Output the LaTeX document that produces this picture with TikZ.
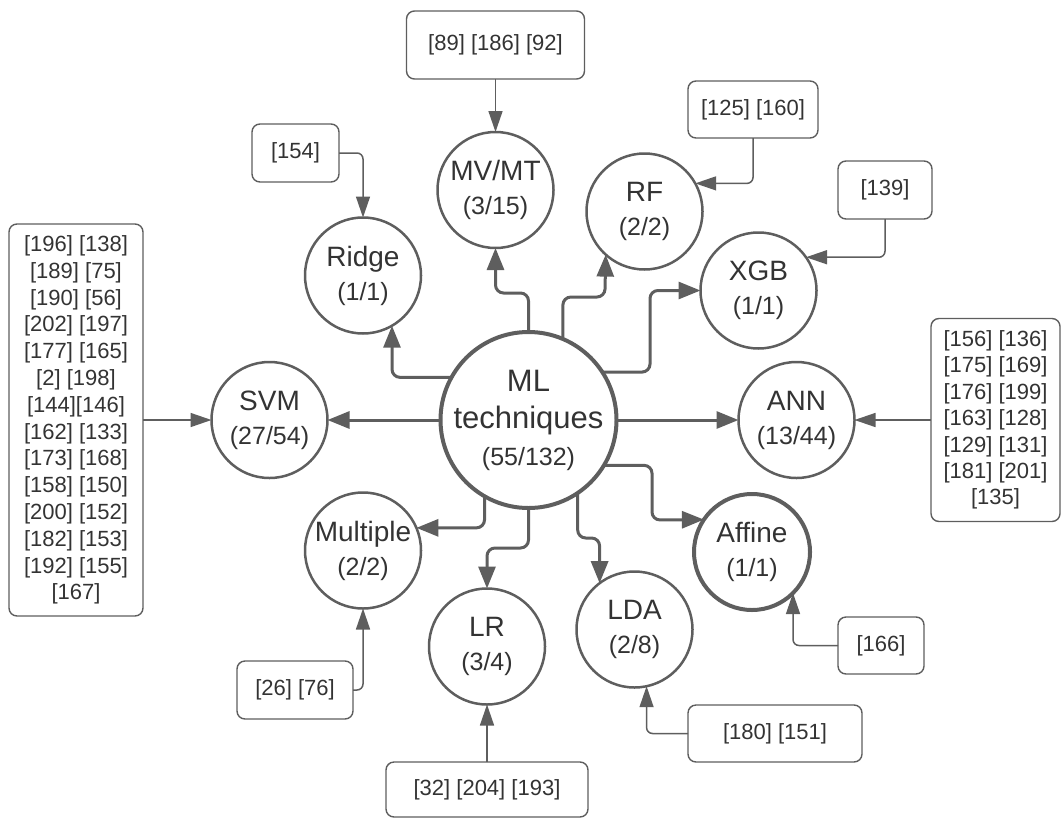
\documentclass[tikz,border=0pt]{standalone}
\usepackage{fontspec}
\setmainfont{Liberation Sans}
\usetikzlibrary{arrows.meta}
\definecolor{linecol}{RGB}{94,94,94}
\definecolor{txtcol}{RGB}{51,51,51}
\begin{document}
\begin{tikzpicture}[x=1pt,y=-1pt,
  circ/.style={circle,draw=linecol,line width=2.5pt,minimum size=116pt,inner sep=0pt,outer sep=0pt},
  bigcirc/.style={circ,line width=4pt},
  lbl/.style={text=txtcol,align=center,inner sep=0pt,font=\fontsize{28}{34}\selectfont},
  refbox/.style={draw=linecol,line width=1.4pt,rounded corners=8pt,text=txtcol,align=center,inner sep=0pt,outer sep=0pt,font=\fontsize{22}{25}\selectfont},
  conn/.style={draw=linecol,line width=3pt,rounded corners=8pt,-{Triangle[length=22pt,width=17pt]}},
  refconn/.style={draw=linecol,line width=1.5pt,rounded corners=6pt,-{Triangle[length=21pt,width=14pt]}},
]
\useasboundingbox (0,0) rectangle (1062,819);

% circles
\node[bigcirc,minimum size=176pt] (ml) at (528.5,420) {};
\node[lbl,font=\fontsize{31}{37}\selectfont] (mlt) at (ml) {ML\\techniques\\{\fontsize{25}{37}\selectfont (55/132)}};
\node[circ] (svm) at (269.5,420) {};
\node[lbl] (svmt) at (svm) {SVM\\{\fontsize{25}{34}\selectfont (27/54)}};
\node[circ] (ridge) at (363,275.5) {};
\node[lbl] (ridget) at (ridge) {Ridge\\{\fontsize{25}{34}\selectfont (1/1)}};
\node[circ] (mvmt) at (495.5,190) {};
\node[lbl] (mvmtt) at (mvmt) {MV/MT\\{\fontsize{25}{34}\selectfont (3/15)}};
\node[circ] (rf) at (644.5,211.5) {};
\node[lbl] (rft) at (rf) {RF\\{\fontsize{25}{34}\selectfont (2/2)}};
\node[circ] (xgb) at (758.5,290.5) {};
\node[lbl] (xgbt) at (xgb) {XGB\\{\fontsize{25}{34}\selectfont (1/1)}};
\node[circ] (ann) at (796.5,420) {};
\node[lbl] (annt) at (ann) {ANN\\{\fontsize{25}{34}\selectfont (13/44)}};
\node[bigcirc] (affine) at (752,552) {};
\node[lbl] (affinet) at (affine) {Affine\\{\fontsize{25}{34}\selectfont (1/1)}};
\node[circ] (lda) at (634.5,629.5) {};
\node[lbl] (ldat) at (lda) {LDA\\{\fontsize{25}{34}\selectfont (2/8)}};
\node[circ] (lr) at (487,646.5) {};
\node[lbl] (lrt) at (lr) {LR\\{\fontsize{25}{34}\selectfont (3/4)}};
\node[circ] (multiple) at (363,550.5) {};
\node[lbl] (multiplet) at (multiple) {Multiple\\{\fontsize{25}{34}\selectfont (2/2)}};

% reference boxes
\node[refbox,minimum width=134pt,minimum height=392pt,font=\fontsize{22}{26.8}\selectfont] (svmrefs) at (76,420) {[196] [138]\\\relax [189] [75]\\\relax [190] [56]\\\relax [202] [197]\\\relax [177] [165]\\\relax [2] [198]\\\relax [144][146]\\\relax [162] [133]\\\relax [173] [168]\\\relax [158] [150]\\\relax [200] [152]\\\relax [182] [153]\\\relax [192] [155]\\\relax [167]};
\node[refbox,minimum width=129pt,minimum height=203pt,font=\fontsize{22}{26.4}\selectfont] (annrefs) at (995.5,420) {[156] [136]\\\relax [175] [169]\\\relax [176] [199]\\\relax [163] [128]\\\relax [129] [131]\\\relax [181] [201]\\\relax [135]};
\node[refbox,minimum width=178pt,minimum height=68pt] (mvrefs) at (495.5,45) {[89] [186] [92]};
\node[refbox,minimum width=130pt,minimum height=57pt] (rfrefs) at (753,109.5) {[125] [160]};
\node[refbox,minimum width=94pt,minimum height=58pt] (xgbrefs) at (885,190) {[139]};
\node[refbox,minimum width=87pt,minimum height=58pt] (ridgerefs) at (295.5,153) {[154]};
\node[refbox,minimum width=116pt,minimum height=58pt] (multrefs) at (295,690) {[26] [76]};
\node[refbox,minimum width=202pt,minimum height=55pt] (lrrefs) at (487,789.5) {[32] [204] [193]};
\node[refbox,minimum width=174pt,minimum height=57pt] (ldarefs) at (775,733.5) {[180] [151]};
\node[refbox,minimum width=86pt,minimum height=57pt] (affrefs) at (881,645.5) {[166]};

% connectors from centre
\draw[conn] (ml.west) -- (svm.east);
\draw[conn] (ml.east) -- (ann.west);
\draw[conn] (ml.151) -| (ridge.-60);
\draw[conn] (ml.north) -- (528.5,293) -| (mvmt.south);
\draw[conn] (ml.67) |- (604.9,297) -- (rf.-132);
\draw[conn] (ml.33) -| (650,290.5) -- (xgb.west);
\draw[conn] (ml.-120) |- (multiple.23);
\draw[conn] (ml.south) -- (528.5,548) -| (lr.north);
\draw[conn] (ml.-56) |- (599.6,538) -- (lda.127);
\draw[conn] (ml.-31) -| (652,520) -- (affine.146);

% reference connectors
\draw[refconn] (mvrefs.south) -- (mvmt.north);
\draw[refconn] (rfrefs.south) |- (rf.29);
\draw[refconn] (xgbrefs.south) |- (xgb.35);
\draw[refconn] (annrefs.west) -- (ann.east);
\draw[refconn] (svmrefs.east) -- (svm.west);
\draw[refconn] (ridgerefs.east) -| (ridge.north);
\draw[refconn] (multrefs.east) -| (multiple.south);
\draw[refconn] (lrrefs.north) -- (lr.south);
\draw[refconn] (ldarefs.west) -| (lda.-78);
\draw[refconn] (affrefs.west) -| (affine.-45);
\end{tikzpicture}
\end{document}
